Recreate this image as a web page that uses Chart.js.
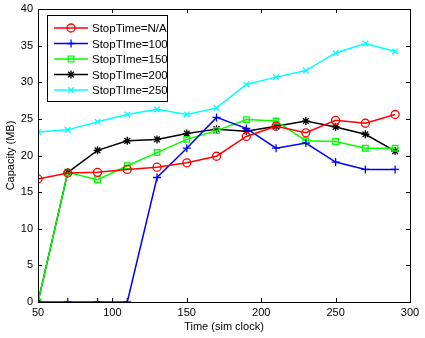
<!DOCTYPE html>
<html>
<head>
<meta charset="utf-8">
<script src="https://cdn.jsdelivr.net/npm/chart.js@4"></script>
<style>
  html, body { margin: 0; padding: 0; background: #fff; }
  #wrap { width: 425px; height: 338px; }
</style>
</head>
<body>
<div id="wrap"><canvas id="myChart" width="425" height="338"></canvas></div>
<script>
// data
const times = [50, 70, 90, 110, 130, 150, 170, 190, 210, 230, 250, 270, 290];
const stopNA  = [16.8, 17.6, 17.7, 18.1, 18.4, 19.0, 19.9, 22.6, 24.0, 23.1, 24.8, 24.4, 25.6];
const stop100 = [0, 0, 0, 0, 17.0, 21.0, 25.2, 23.7, 21.0, 21.7, 19.1, 18.1, 18.1];
const stop150 = [0, 17.7, 16.7, 18.6, 20.4, 22.2, 23.4, 24.9, 24.7, 22.0, 21.9, 21.0, 21.0];
const stop200 = [0, 17.7, 20.7, 22.0, 22.2, 23.0, 23.6, 23.3, 24.0, 24.7, 23.9, 22.9, 20.6];
const stop250 = [23.2, 23.5, 24.6, 25.6, 26.3, 25.6, 26.5, 29.7, 30.7, 31.6, 34.0, 35.3, 34.2];
const seriesNames = ["StopTime=N/A", "StopTIme=100", "StopTIme=150", "StopTIme=200", "StopTIme=250"];
const xTicks = [50, 100, 150, 200, 250, 300];
const yTicks = [0, 5, 10, 15, 20, 25, 30, 35, 40];

const FONT = "Liberation Sans, Arial, Helvetica, sans-serif";

function pts(vals) {
  return vals.map(function (v, i) { return { x: times[i], y: v }; });
}

function makeSet(label, vals, color, style) {
  return {
    label: label,
    data: pts(vals),
    borderColor: color,
    backgroundColor: color,
    pointBorderColor: color,
    pointBackgroundColor: (style === "circle" || style === "rect") ? "rgba(0,0,0,0)" : color,
    pointStyle: style,
    pointRadius: 4,
    pointBorderWidth: 1.3,
    borderWidth: 1.5,
    tension: 0
  };
}

// frame, inward ticks and the legend box
const matlabLook = {
  id: "matlabLook",
  afterDraw: function (chart) {
    const c = chart.ctx;
    const a = chart.chartArea;
    const xs = chart.scales.x, ys = chart.scales.y;
    c.save();
    c.strokeStyle = "#000";
    c.lineWidth = 1;
    c.strokeRect(a.left + 0.5, a.top + 0.5, a.right - a.left, a.bottom - a.top);
    const t = 4;
    c.beginPath();
    xTicks.forEach(function (v) {
      const px = Math.round(xs.getPixelForValue(v)) + 0.5;
      c.moveTo(px, a.bottom); c.lineTo(px, a.bottom - t);
      c.moveTo(px, a.top); c.lineTo(px, a.top + t);
    });
    yTicks.forEach(function (v) {
      const py = Math.round(ys.getPixelForValue(v)) + 0.5;
      c.moveTo(a.left, py); c.lineTo(a.left + t, py);
      c.moveTo(a.right, py); c.lineTo(a.right - t, py);
    });
    c.stroke();

    // legend
    const lx = a.left + 9, ly = a.top + 6, lw = 120, lh = 86;
    c.fillStyle = "#fff";
    c.fillRect(lx, ly, lw, lh);
    c.strokeRect(lx + 0.5, ly + 0.5, lw, lh);
    c.font = "11.5px " + FONT;
    c.textBaseline = "middle";
    chart.data.datasets.forEach(function (ds, i) {
      const y = ly + 13 + i * 15.5;
      c.strokeStyle = ds.borderColor;
      c.lineWidth = 1.5;
      c.beginPath();
      c.moveTo(lx + 7, y); c.lineTo(lx + 41, y);
      c.stroke();
      c.fillStyle = ds.pointBackgroundColor;
      c.strokeStyle = ds.borderColor;
      c.lineWidth = 1.3;
      Chart.helpers.drawPoint(c, { pointStyle: ds.pointStyle, radius: 4, borderWidth: 1.3, rotation: 0 }, lx + 24, y);
      c.fillStyle = "#000";
      c.fillText(ds.label, lx + 45, y + 1);
    });
    c.restore();
  }
};

const ctx = document.getElementById("myChart").getContext("2d");
const myChart = new Chart(ctx, {
  type: "line",
  data: {
    datasets: [
      makeSet(seriesNames[0], stopNA, "#ff0000", "circle"),
      makeSet(seriesNames[1], stop100, "#0000ff", "cross"),
      makeSet(seriesNames[2], stop150, "#00ff00", "rect"),
      makeSet(seriesNames[3], stop200, "#000000", "star"),
      makeSet(seriesNames[4], stop250, "#00ffff", "crossRot")
    ]
  },
  options: {
    responsive: false,
    animation: false,
    layout: { padding: { left: 4, right: 15, top: 9, bottom: 4 } },
    plugins: {
      legend: { display: false },
      tooltip: { enabled: false }
    },
    scales: {
      x: {
        type: "linear",
        min: 50, max: 300,
        afterBuildTicks: function (s) { s.ticks = xTicks.map(function (v) { return { value: v }; }); },
        afterFit: function (s) { s.height = 32; s.paddingLeft = 0; s.paddingRight = 0; },
        ticks: { color: "#000", font: { family: FONT, size: 11 }, padding: 4, maxRotation: 0 },
        grid: { display: false, drawTicks: false, tickLength: 0 },
        border: { display: false },
        title: { display: true, text: "Time (sim clock)", color: "#000", font: { family: FONT, size: 11 }, padding: { top: 0, bottom: 0 } }
      },
      y: {
        min: 0, max: 40,
        afterBuildTicks: function (s) { s.ticks = yTicks.map(function (v) { return { value: v }; }); },
        afterFit: function (s) { s.width = 34; s.paddingTop = 0; s.paddingBottom = 0; },
        ticks: { color: "#000", font: { family: FONT, size: 11 }, padding: 5 },
        grid: { display: false, drawTicks: false, tickLength: 0 },
        border: { display: false },
        title: { display: true, text: "Capacity (MB)", color: "#000", font: { family: FONT, size: 11 }, padding: { top: 0, bottom: 0 } }
      }
    }
  },
  plugins: [matlabLook]
});
</script>
</body>
</html>
